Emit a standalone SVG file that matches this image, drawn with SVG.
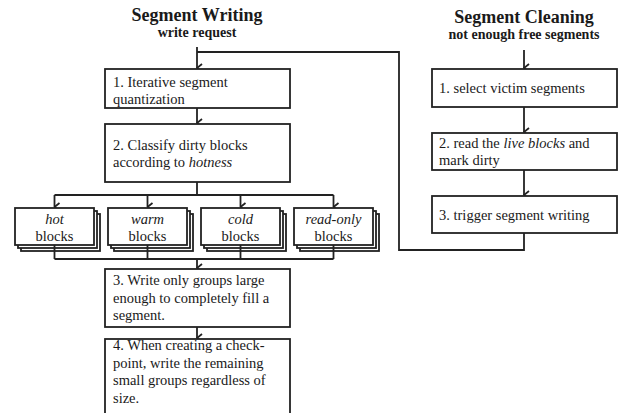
<svg xmlns="http://www.w3.org/2000/svg" width="627" height="413" viewBox="0 0 627 413">
<style>
.box{fill:#fff;stroke:#222;stroke-width:1.8}
.t{font-family:"Liberation Serif","Times New Roman",serif;font-size:14.5px;fill:#1a1a1a}
.c{text-anchor:middle}
.i{font-style:italic}
.h1{font-family:"Liberation Serif","Times New Roman",serif;font-size:18px;font-weight:bold;fill:#1a1a1a;text-anchor:middle}
.h2{font-family:"Liberation Serif","Times New Roman",serif;font-size:14px;font-weight:bold;fill:#1a1a1a;text-anchor:middle}
.ln{fill:none;stroke:#222;stroke-width:1.8}
.ar{marker-end:url(#a)}
</style>
<defs>
<marker id="a" viewBox="0 0 10 10" refX="5" refY="9" markerWidth="10" markerHeight="10" markerUnits="userSpaceOnUse" orient="auto-start-reverse">
<path d="M1,4 L5,9 L9,4" fill="none" stroke="#222" stroke-width="1.8"/>
</marker>
</defs>
<rect width="627" height="413" fill="#fff"/>
<g id="titles">
<text class="h1" x="197" y="21">Segment Writing</text>
<text class="h2" x="197" y="37">write request</text>
<text class="h1" x="524" y="23">Segment Cleaning</text>
<text class="h2" x="524" y="39">not enough free segments</text>
</g>
<g id="connectors">
<path class="ln ar" d="M197,47 V68"/>
<path class="ln" d="M197,52 H399 V250 H524 V233"/>
<path class="ln ar" d="M197,108 V123"/>
<path class="ln" d="M197,182 V195 M54.5,195 H333.5"/>
<path class="ln ar" d="M54.5,195 V207"/>
<path class="ln ar" d="M147.5,195 V207"/>
<path class="ln ar" d="M240.5,195 V207"/>
<path class="ln ar" d="M333.5,195 V207"/>
<path class="ln" d="M54.5,259 H333.5"/>
<path class="ln ar" d="M197,259 V268"/>
<path class="ln ar" d="M197,327 V338"/>
<path class="ln ar" d="M524,50 V68"/>
<path class="ln ar" d="M524,107 V132"/>
<path class="ln ar" d="M524,170 V195"/>
</g>
<g id="w1">
<rect class="box" x="105" y="69" width="185" height="39"/>
<text class="t" x="113" y="87">1. Iterative segment</text>
<text class="t" x="113" y="104">quantization</text>
</g>
<g id="w2">
<rect class="box" x="105" y="124" width="185" height="58"/>
<text class="t" x="113" y="150">2. Classify dirty blocks</text>
<text class="t" x="113" y="167">according to <tspan class="i">hotness</tspan></text>
</g>
<g id="hot">
<rect class="box" x="21" y="214" width="79" height="37"/>
<rect class="box" x="18" y="211" width="79" height="37"/>
<rect class="box" x="15" y="208" width="79" height="37"/>
<text class="t c i" x="54.5" y="224">hot</text>
<text class="t c" x="54.5" y="241">blocks</text>
</g>
<g id="warm">
<rect class="box" x="114" y="214" width="79" height="37"/>
<rect class="box" x="111" y="211" width="79" height="37"/>
<rect class="box" x="108" y="208" width="79" height="37"/>
<text class="t c i" x="147.5" y="224">warm</text>
<text class="t c" x="147.5" y="241">blocks</text>
</g>
<g id="cold">
<rect class="box" x="207" y="214" width="79" height="37"/>
<rect class="box" x="204" y="211" width="79" height="37"/>
<rect class="box" x="201" y="208" width="79" height="37"/>
<text class="t c i" x="240.5" y="224">cold</text>
<text class="t c" x="240.5" y="241">blocks</text>
</g>
<g id="readonly">
<rect class="box" x="300" y="214" width="79" height="37"/>
<rect class="box" x="297" y="211" width="79" height="37"/>
<rect class="box" x="294" y="208" width="79" height="37"/>
<text class="t c i" x="333.5" y="224">read-only</text>
<text class="t c" x="333.5" y="241">blocks</text>
</g>
<g id="stack-outlets">
<path class="ln" d="M54.5,245 V259 M147.5,245 V259 M240.5,245 V259 M333.5,245 V259"/>
</g>
<g id="w3">
<rect class="box" x="105" y="269" width="185" height="58"/>
<text class="t" x="113" y="285">3. Write only groups large</text>
<text class="t" x="113" y="302.5">enough to completely fill a</text>
<text class="t" x="113" y="320">segment.</text>
</g>
<g id="w4">
<rect class="box" x="105" y="339" width="185" height="90"/>
<text class="t" x="113" y="350">4. When creating a check-</text>
<text class="t" x="113" y="367.5">point, write the remaining</text>
<text class="t" x="113" y="385">small groups regardless of</text>
<text class="t" x="113" y="402.5">size.</text>
</g>
<g id="c1">
<rect class="box" x="432" y="69" width="185" height="38"/>
<text class="t" x="439" y="93">1. select victim segments</text>
</g>
<g id="c2">
<rect class="box" x="432" y="133" width="185" height="37"/>
<text class="t" x="439" y="148">2. read the <tspan class="i">live blocks</tspan> and</text>
<text class="t" x="439" y="165">mark dirty</text>
</g>
<g id="c3">
<rect class="box" x="432" y="196" width="185" height="37"/>
<text class="t" x="439" y="220">3. trigger segment writing</text>
</g>
</svg>
